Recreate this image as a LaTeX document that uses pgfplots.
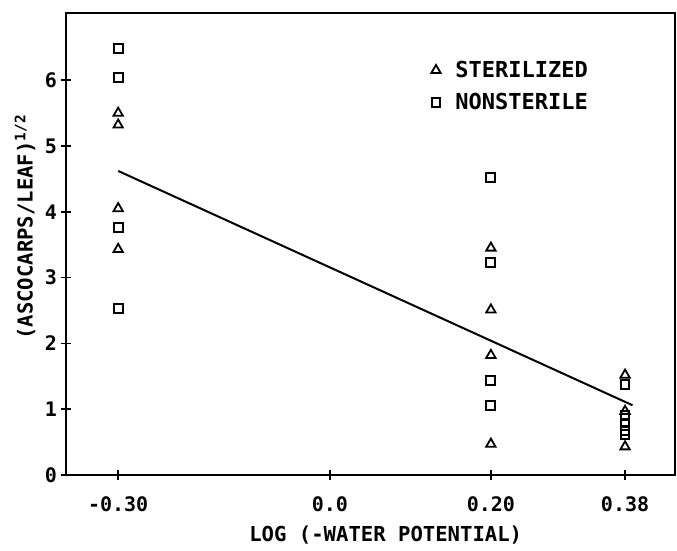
\documentclass[border=0pt]{standalone}
\usepackage{fontspec}
\setmainfont{DejaVu Sans Mono}
\usepackage{pgfplots}
\usepackage{pgfplotstable}
\pgfplotsset{compat=1.18}

% sterilized leaves
\pgfplotstableread{
x y
-0.30 5.50
-0.30 5.32
-0.30 4.05
-0.30 3.43
0.20 3.45
0.20 2.51
0.20 1.82
0.20 0.47
0.38 1.52
0.38 0.97
0.38 0.43
}\sterilized

% nonsterile leaves
\pgfplotstableread{
x y
-0.30 6.48
-0.30 6.04
-0.30 3.76
-0.30 2.53
0.20 4.52
0.20 3.23
0.20 1.44
0.20 1.06
0.38 1.37
0.38 0.90
0.38 0.79
0.38 0.68
0.38 0.62
}\nonsterile

\begin{document}
\begin{tikzpicture}
\begin{axis}[
    scale only axis,
    width=304.5pt, height=231pt,
    xmin=-0.37, xmax=0.447,
    ymin=0, ymax=7.02,
    axis line style={line width=1pt},
    tick align=center,
    xtick pos=bottom, ytick pos=left,
    major tick length=5pt,
    tick style={line width=0.8pt, black},
    xtick={-0.30,-0.016,0.20,0.38},
    xticklabels={-0.30,0.0,0.20,0.38},
    ytick={0,1,2,3,4,5,6},
    /pgf/number format/assume math mode=true,
    ticklabel style={font=\fontsize{10}{12}\selectfont\bfseries},
    xticklabel style={anchor=base, yshift=-16pt},
    yticklabel style={xshift=1.5pt},
    xlabel={LOG (-WATER POTENTIAL)},
    ylabel={(ASCOCARPS/LEAF)\textsuperscript{1/2}},
    label style={font=\fontsize{10.3}{12}\selectfont\bfseries},
    xlabel style={at={([yshift=-30pt]rel axis cs:0.525,0)}, anchor=center},
    ylabel style={at={([xshift=-20.5pt]rel axis cs:0,0.537)}, anchor=center},
    legend style={draw=none, fill=none, at={(rel axis cs:0.583,0.915)},
        anchor=north west, font=\fontsize{11}{13}\selectfont\bfseries,
        row sep=2.5pt},
    legend cell align=left,
    legend image code/.code={
        \draw[#1] plot coordinates {(0.15cm,0cm)};
        \path[draw=none, fill=none] (0cm,0cm) (0.42cm,0cm);},
]
\addplot[only marks, mark=triangle, mark size=2.7pt,
    mark options={line width=0.9pt, black}] table {\sterilized};
\addplot[only marks, mark=square, mark size=2.2pt,
    mark options={line width=1pt, black}] table {\nonsterile};
\addplot[line width=1pt, black, no marks, forget plot]
    coordinates {(-0.30,4.62) (0.39,1.06)};
\legend{STERILIZED, NONSTERILE}
\end{axis}
\path ([xshift=-33pt,yshift=-35.5pt]current axis.south west)
    rectangle ([xshift=1pt,yshift=6.5pt]current axis.north east);
\end{tikzpicture}
\end{document}
